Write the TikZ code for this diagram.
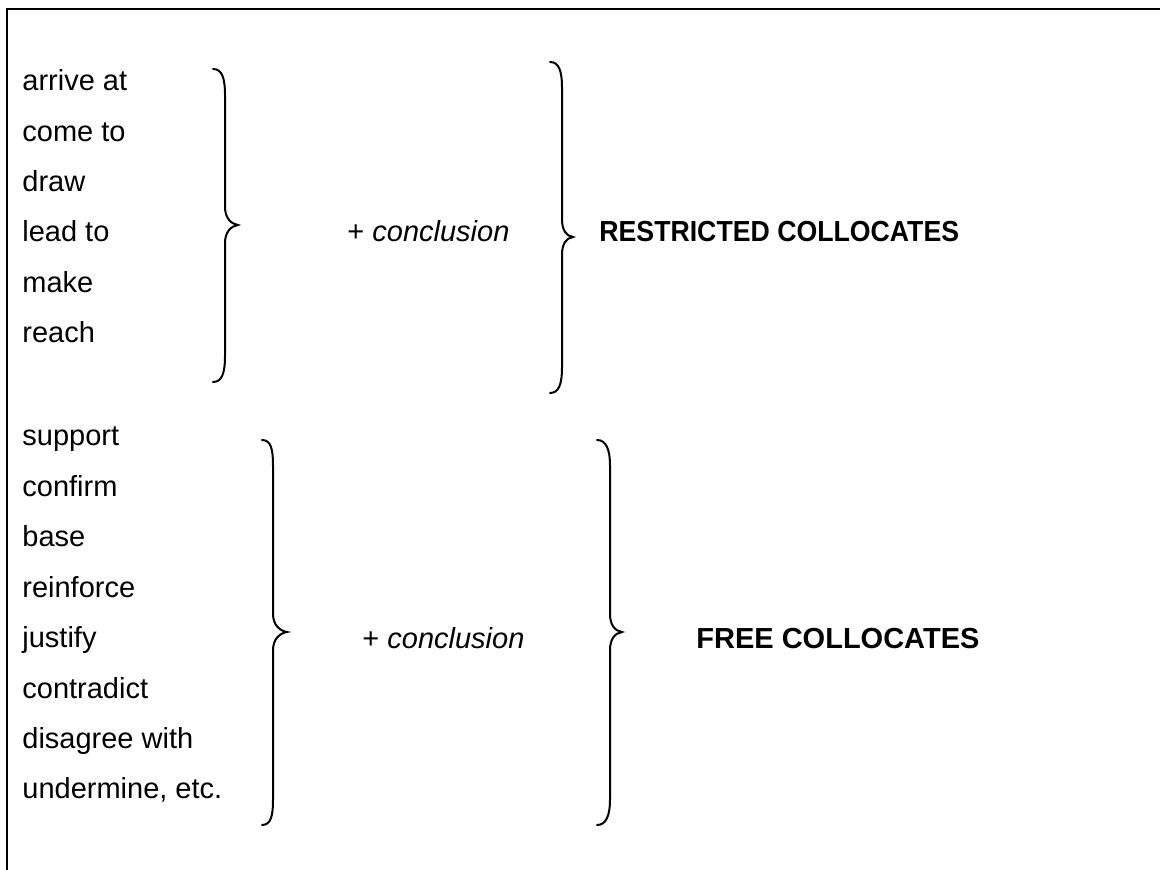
\documentclass[tikz,border=0pt]{standalone}
\usepackage{fontspec}
\usepackage{graphicx}
\setmainfont{Liberation Sans}
\begin{document}
\begin{tikzpicture}[x=0.5pt,y=-0.5pt,
  word/.style={anchor=base west,inner sep=0pt,font=\fontsize{14.5}{17}\selectfont},
  label/.style={word,font=\fontsize{14.5}{17}\selectfont\bfseries},
  bracepath/.style={line width=1pt,line cap=round,line join=miter},
  frameline/.style={line width=1pt}]
\useasboundingbox (0,0) rectangle (1160,870);
\draw[frameline] (7,880) -- (7,9) -- (1170,9);
% group 1 words
\foreach \t [count=\i from 0] in {arrive at,come to,draw,lead to,make,reach}
  \node[word] (g1w\i) at (22,{90.7+50.4*\i}) {\t};
% group 2 words
\foreach \t [count=\i from 0] in {support,confirm,base,reinforce,justify,contradict,disagree with,{undermine, etc.}}
  \node[word] (g2w\i) at (22,{446+50.4*\i}) {\t};
% middle texts
\node[word] (c1) at (347,242) {+ \textit{conclusion}};
\node[word] (c2) at (362,648) {+ \textit{conclusion}};
\node[label] (r1) at (599,242) {\scalebox{0.92}[1]{RESTRICTED COLLOCATES}};
\node[label] (r2) at (696,648) {FREE COLLOCATES};
% braces: e = end x, l = line x, t = tip x, a = top, m = tip y, b = bottom
\newcommand\mybrace[6]{%
  \draw[bracepath] (#1,#4) .. controls (#1+9,#4) and (#2,#4+9) .. (#2,#4+26) -- (#2,#5-18)
    .. controls (#2,#5-7) and (#3-7,#5-1) .. (#3,#5)
    .. controls (#3-7,#5+1) and (#2,#5+7) .. (#2,#5+18)
    -- (#2,#6-26) .. controls (#2,#6-9) and (#1+9,#6) .. (#1,#6);}
\mybrace{213}{225}{238}{69}{225}{382}
\mybrace{550}{562}{573}{62}{237}{393}
\mybrace{262}{273}{287}{440}{632}{825}
\mybrace{597}{610}{622}{440}{632}{825}
\end{tikzpicture}
\end{document}
